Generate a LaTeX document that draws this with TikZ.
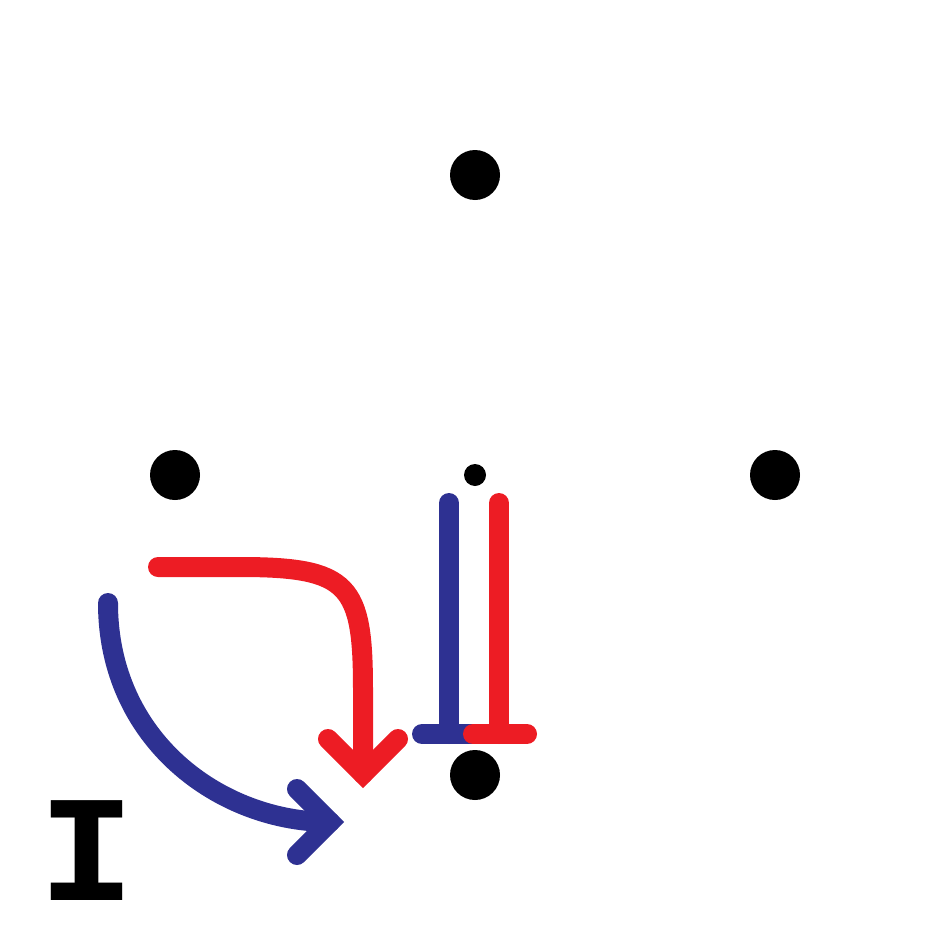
\documentclass[tikz,border=0pt]{standalone}
\usepackage{fontspec}
\newfontfamily\imono{DejaVu Sans Mono}
\definecolor{iblue}{HTML}{2E3192}
\definecolor{ired}{HTML}{ED1C24}
\begin{document}
\begin{tikzpicture}[x=1pt,y=-1pt,
  dot/.style={circle,fill=black,inner sep=0pt,minimum size=50pt},
  smalldot/.style={circle,fill=black,inner sep=0pt,minimum size=22pt},
  stroke/.style={line width=20pt,line cap=round},
  head/.style={line width=20pt,line cap=round,line join=miter}]
\useasboundingbox (0,0) rectangle (950,950);
\node[dot] (top) at (475,175) {};
\node[dot] (left) at (175,475) {};
\node[dot] (right) at (775,475) {};
\node[dot] (bottom) at (475,775) {};
\node[smalldot] (mid) at (475,475) {};
% T bars
\coordinate (bt) at (449,503);
\coordinate (bb) at (449,734);
\coordinate (bl) at (422,734);
\coordinate (br) at (478,734);
\coordinate (rt) at (499,503);
\coordinate (rb) at (499,734);
\coordinate (rl) at (473,734);
\coordinate (rr) at (527,734);
\draw[stroke,iblue] (bt) -- (bb);
\draw[stroke,iblue] (bl) -- (br);
\draw[stroke,ired] (rt) -- (rb);
\draw[stroke,ired] (rl) -- (rr);
% red arrow
\coordinate (ra) at (158,567);
\coordinate (rtip) at (363,774);
\draw[stroke,ired] (ra) -- (240,567) .. controls (350,567) and (363,585) .. (363,690) -- (rtip);
\draw[head,ired] (328,739) -- (rtip) -- (398,739);
% blue arrow
\coordinate (ba) at (108,603);
\coordinate (btip) at (330,822);
\draw[stroke,iblue] (ba) .. controls (108,740) and (220,822) .. (btip);
\draw[head,iblue] (297,789) -- (btip) -- (297,855);
% letter
\node[font=\imono\bfseries\fontsize{137}{137}\selectfont,anchor=base,inner sep=0pt,xscale=1.2] (lab) at (87,900) {I};
\end{tikzpicture}
\end{document}
